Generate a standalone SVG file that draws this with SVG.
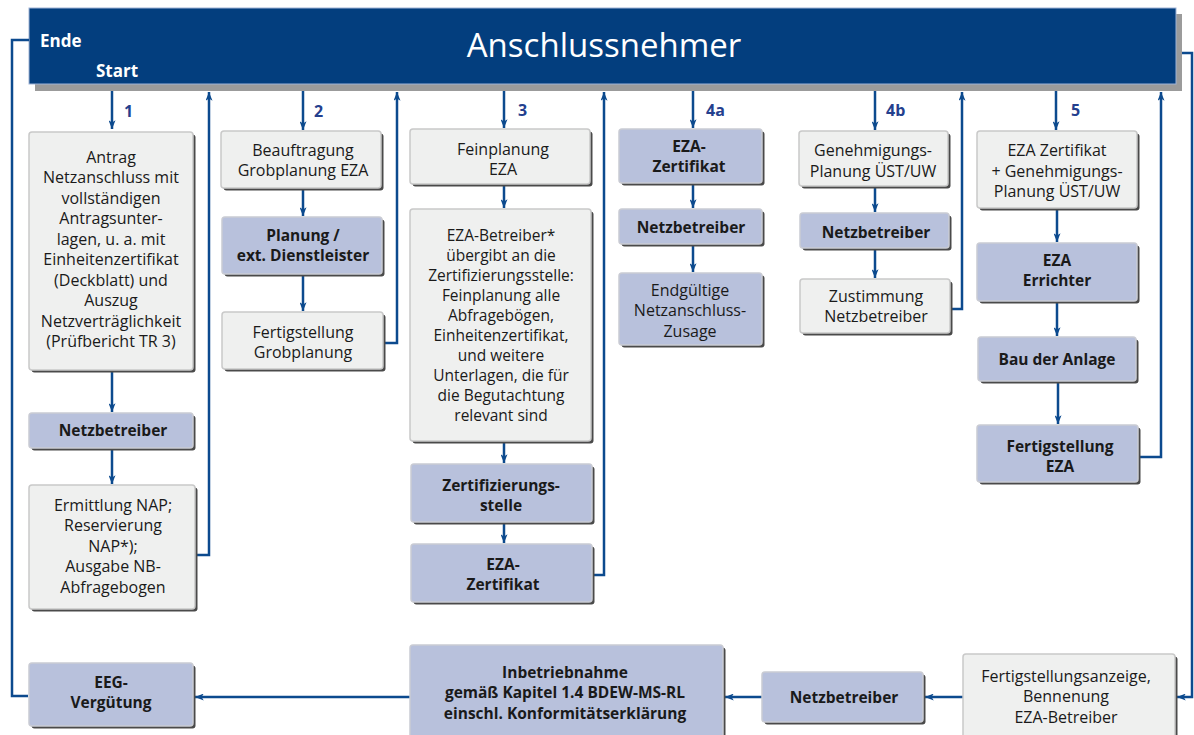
<svg xmlns="http://www.w3.org/2000/svg" width="1194" height="735" viewBox="0 0 1194 735">
<style>
  text { font-family: "Open Sans", "Noto Sans", "Liberation Sans", sans-serif; fill: #1a1a1a; text-anchor: middle; }
  .t { font-size: 16px; }
  .ts { font-size: 15.5px; }
  .b { font-size: 15.5px; font-weight: bold; }
  .num { font-size: 16px; font-weight: bold; fill: #24408e; text-anchor: start; }
  .hdr { font-size: 33px; fill: #ffffff; }
  .hb { font-size: 17px; font-weight: bold; fill: #ffffff; text-anchor: start; }
  .sh { fill: #4a4a4a; }
  .lt { fill: #eff0ef; stroke: #c9c9c9; stroke-width: 1.5; }
  .bl { fill: #b8c1dc; stroke: #c9cbd3; stroke-width: 1.5; }
  .c { fill: none; stroke: #0c4a8e; stroke-width: 2.5; }
</style>
<defs>
  <marker id="ah" viewBox="0 0 10 8" refX="10" refY="4" markerWidth="9" markerHeight="7" markerUnits="userSpaceOnUse" orient="auto">
    <path d="M0,0 L10,4 L0,8 L2.5,4 z" fill="#0c4a8e"/>
  </marker>
</defs>

<g id="header">
  <rect x="35" y="14" width="1147" height="77" fill="#9b9b9b"/>
  <rect x="29" y="8" width="1147" height="76" fill="#033e7e" stroke="#9fb3d6" stroke-width="1"/>
  <text class="hdr" x="604" y="57">Anschlussnehmer</text>
  <text class="hb" x="40" y="47">Ende</text>
  <text class="hb" x="96" y="77">Start</text>
</g>

<g id="connectors">
  <path class="c" d="M112,91 V129" marker-end="url(#ah)"/>
  <path class="c" d="M112,371 V412" marker-end="url(#ah)"/>
  <path class="c" d="M112,449 V484" marker-end="url(#ah)"/>
  <path class="c" d="M196,555 H209 V92" marker-end="url(#ah)"/>
  <path class="c" d="M303,91 V130" marker-end="url(#ah)"/>
  <path class="c" d="M303,189 V216" marker-end="url(#ah)"/>
  <path class="c" d="M303,275 V311" marker-end="url(#ah)"/>
  <path class="c" d="M385,343 H397 V92" marker-end="url(#ah)"/>
  <path class="c" d="M504,91 V128" marker-end="url(#ah)"/>
  <path class="c" d="M504,185 V208" marker-end="url(#ah)"/>
  <path class="c" d="M504,443 V463" marker-end="url(#ah)"/>
  <path class="c" d="M504,524 V543" marker-end="url(#ah)"/>
  <path class="c" d="M594,575 H604 V92" marker-end="url(#ah)"/>
  <path class="c" d="M693,91 V128" marker-end="url(#ah)"/>
  <path class="c" d="M693,184 V208" marker-end="url(#ah)"/>
  <path class="c" d="M693,245 V272" marker-end="url(#ah)"/>
  <path class="c" d="M875,91 V130" marker-end="url(#ah)"/>
  <path class="c" d="M875,187 V212" marker-end="url(#ah)"/>
  <path class="c" d="M875,249 V278" marker-end="url(#ah)"/>
  <path class="c" d="M952,309 H962 V92" marker-end="url(#ah)"/>
  <path class="c" d="M1056,91 V130" marker-end="url(#ah)"/>
  <path class="c" d="M1057,209 V242" marker-end="url(#ah)"/>
  <path class="c" d="M1057,302 V336" marker-end="url(#ah)"/>
  <path class="c" d="M1058,382 V424" marker-end="url(#ah)"/>
  <path class="c" d="M1140,457 H1161 V92" marker-end="url(#ah)"/>
  <path class="c" d="M29,40 H12 V696 H28"/>
  <path class="c" d="M1182,53 H1192 V697 H1177" marker-end="url(#ah)"/>
  <path class="c" d="M963,697 H925" marker-end="url(#ah)"/>
  <path class="c" d="M762,697 H725" marker-end="url(#ah)"/>
  <path class="c" d="M410,697 H195" marker-end="url(#ah)"/>
  <text class="num" x="124" y="117">1</text>
  <text class="num" x="314" y="117">2</text>
  <text class="num" x="518" y="116">3</text>
  <text class="num" x="706" y="116">4a</text>
  <text class="num" x="886" y="116">4b</text>
  <text class="num" x="1071" y="116">5</text>
</g>

<g id="n1a">
  <rect class="sh" x="31.5" y="134.5" width="164" height="238" rx="3"/>
  <rect class="lt" x="29" y="132" width="164" height="238" rx="3"/>
  <text class="t"><tspan x="111" y="162.5">Antrag</tspan><tspan x="111" y="183">Netzanschluss mit</tspan><tspan x="111" y="203.5">vollständigen</tspan><tspan x="111" y="224">Antragsunter-</tspan><tspan x="111" y="244.5">lagen, u. a. mit</tspan><tspan x="111" y="265">Einheitenzertifikat</tspan><tspan x="111" y="285.5">(Deckblatt) und</tspan><tspan x="111" y="306">Auszug</tspan><tspan x="111" y="326.5">Netzverträglichkeit</tspan><tspan x="111" y="347">(Prüfbericht TR 3)</tspan></text>
</g>
<g id="n1b">
  <rect class="sh" x="31.5" y="415.5" width="164" height="35" rx="3"/>
  <rect class="bl" x="29" y="413" width="164" height="35" rx="3"/>
  <text class="b" x="113" y="436">Netzbetreiber</text>
</g>
<g id="n1c">
  <rect class="sh" x="31.5" y="487.5" width="166" height="124" rx="3"/>
  <rect class="lt" x="29" y="485" width="166" height="124" rx="3"/>
  <text class="t"><tspan x="113" y="510.5">Ermittlung NAP;</tspan><tspan x="113" y="531">Reservierung</tspan><tspan x="113" y="551.5">NAP*);</tspan><tspan x="113" y="572">Ausgabe NB-</tspan><tspan x="113" y="592.5">Abfragebogen</tspan></text>
</g>

<g id="n2a">
  <rect class="sh" x="223.5" y="133.5" width="160" height="57" rx="3"/>
  <rect class="lt" x="221" y="131" width="160" height="57" rx="3"/>
  <text class="t"><tspan x="303" y="155.5">Beauftragung</tspan><tspan x="303" y="176">Grobplanung EZA</tspan></text>
</g>
<g id="n2b">
  <rect class="sh" x="224.5" y="219.5" width="160" height="57" rx="3"/>
  <rect class="bl" x="222" y="217" width="160" height="57" rx="3"/>
  <text class="b"><tspan x="303" y="241">Planung /</tspan><tspan x="303" y="261">ext. Dienstleister</tspan></text>
</g>
<g id="n2c">
  <rect class="sh" x="224.5" y="314.5" width="161" height="57" rx="3"/>
  <rect class="lt" x="222" y="312" width="161" height="57" rx="3"/>
  <text class="t"><tspan x="303" y="337.5">Fertigstellung</tspan><tspan x="303" y="358">Grobplanung</tspan></text>
</g>

<g id="n3a">
  <rect class="sh" x="412.5" y="131.5" width="180" height="55" rx="3"/>
  <rect class="lt" x="410" y="129" width="180" height="55" rx="3"/>
  <text class="t"><tspan x="503" y="154.5">Feinplanung</tspan><tspan x="503" y="175">EZA</tspan></text>
</g>
<g id="n3b">
  <rect class="sh" x="412.5" y="211.5" width="181" height="232" rx="3"/>
  <rect class="lt" x="410" y="209" width="181" height="232" rx="3"/>
  <text class="ts"><tspan x="501" y="240.5">EZA-Betreiber*</tspan><tspan x="501" y="260.5">übergibt an die</tspan><tspan x="501" y="280.5">Zertifizierungsstelle:</tspan><tspan x="501" y="300.5">Feinplanung alle</tspan><tspan x="501" y="320.5">Abfragebögen,</tspan><tspan x="501" y="340.5">Einheitenzertifikat,</tspan><tspan x="501" y="360.5">und weitere</tspan><tspan x="501" y="380.5">Unterlagen, die für</tspan><tspan x="501" y="400.5">die Begutachtung</tspan><tspan x="501" y="420.5">relevant sind</tspan></text>
</g>
<g id="n3c">
  <rect class="sh" x="413.5" y="466.5" width="181" height="58" rx="3"/>
  <rect class="bl" x="411" y="464" width="181" height="58" rx="3"/>
  <text class="b"><tspan x="501" y="490.5">Zertifizierungs-</tspan><tspan x="501" y="510.5">stelle</tspan></text>
</g>
<g id="n3d">
  <rect class="sh" x="413.5" y="546.5" width="181" height="58" rx="3"/>
  <rect class="bl" x="411" y="544" width="181" height="58" rx="3"/>
  <text class="b"><tspan x="503" y="569.5">EZA-</tspan><tspan x="503" y="589.5">Zertifikat</tspan></text>
</g>

<g id="n4a1">
  <rect class="sh" x="621.5" y="131.5" width="143" height="54" rx="3"/>
  <rect class="bl" x="619" y="129" width="143" height="54" rx="3"/>
  <text class="b"><tspan x="689" y="152">EZA-</tspan><tspan x="689" y="172">Zertifikat</tspan></text>
</g>
<g id="n4a2">
  <rect class="sh" x="621.5" y="211.5" width="143" height="35" rx="3"/>
  <rect class="bl" x="619" y="209" width="143" height="35" rx="3"/>
  <text class="b" x="691" y="232.5">Netzbetreiber</text>
</g>
<g id="n4a3">
  <rect class="sh" x="621.5" y="275.5" width="143" height="72" rx="3"/>
  <rect class="bl" x="619" y="273" width="143" height="72" rx="3"/>
  <text class="t"><tspan x="690" y="295.5">Endgültige</tspan><tspan x="690" y="316">Netzanschluss-</tspan><tspan x="690" y="336.5">Zusage</tspan></text>
</g>

<g id="n4b1">
  <rect class="sh" x="801.5" y="133.5" width="149" height="55" rx="3"/>
  <rect class="lt" x="799" y="131" width="149" height="55" rx="3"/>
  <text class="t"><tspan x="873" y="156">Genehmigungs-</tspan><tspan x="873" y="176.5">Planung ÜST/UW</tspan></text>
</g>
<g id="n4b2">
  <rect class="sh" x="802.5" y="215.5" width="149" height="35" rx="3"/>
  <rect class="bl" x="800" y="213" width="149" height="35" rx="3"/>
  <text class="b" x="876" y="238">Netzbetreiber</text>
</g>
<g id="n4b3">
  <rect class="sh" x="802.5" y="281.5" width="150" height="54" rx="3"/>
  <rect class="lt" x="800" y="279" width="150" height="54" rx="3"/>
  <text class="t"><tspan x="876" y="301.5">Zustimmung</tspan><tspan x="876" y="322">Netzbetreiber</tspan></text>
</g>

<g id="n5a">
  <rect class="sh" x="979.5" y="133.5" width="160" height="77" rx="3"/>
  <rect class="lt" x="977" y="131" width="160" height="77" rx="3"/>
  <text class="t"><tspan x="1057" y="156">EZA Zertifikat</tspan><tspan x="1057" y="176.5">+ Genehmigungs-</tspan><tspan x="1057" y="197">Planung ÜST/UW</tspan></text>
</g>
<g id="n5b">
  <rect class="sh" x="979.5" y="245.5" width="160" height="58" rx="3"/>
  <rect class="bl" x="977" y="243" width="160" height="58" rx="3"/>
  <text class="b"><tspan x="1057" y="266">EZA</tspan><tspan x="1057" y="286">Errichter</tspan></text>
</g>
<g id="n5c">
  <rect class="sh" x="980.5" y="339.5" width="158" height="44" rx="3"/>
  <rect class="bl" x="978" y="337" width="158" height="44" rx="3"/>
  <text class="b" x="1057" y="365">Bau der Anlage</text>
</g>
<g id="n5d">
  <rect class="sh" x="979.5" y="427.5" width="161" height="57" rx="3"/>
  <rect class="bl" x="977" y="425" width="161" height="57" rx="3"/>
  <text class="b"><tspan x="1060" y="451.5">Fertigstellung</tspan><tspan x="1060" y="471.5">EZA</tspan></text>
</g>

<g id="n_eeg">
  <rect class="sh" x="31.5" y="665.5" width="164" height="63" rx="3"/>
  <rect class="bl" x="29" y="663" width="164" height="63" rx="3"/>
  <text class="b"><tspan x="111" y="688">EEG-</tspan><tspan x="111" y="708">Vergütung</tspan></text>
</g>
<g id="n_inbetrieb">
  <rect class="sh" x="412.5" y="647.5" width="313" height="100" rx="3"/>
  <rect class="bl" x="410" y="645" width="313" height="100" rx="3"/>
  <text class="b"><tspan x="565" y="677.5">Inbetriebnahme</tspan><tspan x="565" y="698">gemäß Kapitel 1.4 BDEW-MS-RL</tspan><tspan x="565" y="718.5">einschl. Konformitätserklärung</tspan></text>
</g>
<g id="n_nb">
  <rect class="sh" x="764.5" y="674.5" width="161" height="50" rx="3"/>
  <rect class="bl" x="762" y="672" width="161" height="50" rx="3"/>
  <text class="b" x="844" y="702.5">Netzbetreiber</text>
</g>
<g id="n_fertig">
  <rect class="sh" x="965.5" y="656.5" width="212" height="100" rx="3"/>
  <rect class="lt" x="963" y="654" width="212" height="100" rx="3"/>
  <text class="t"><tspan x="1066" y="681.5">Fertigstellungsanzeige,</tspan><tspan x="1066" y="702">Bennenung</tspan><tspan x="1066" y="722.5">EZA-Betreiber</tspan></text>
</g>
</svg>
